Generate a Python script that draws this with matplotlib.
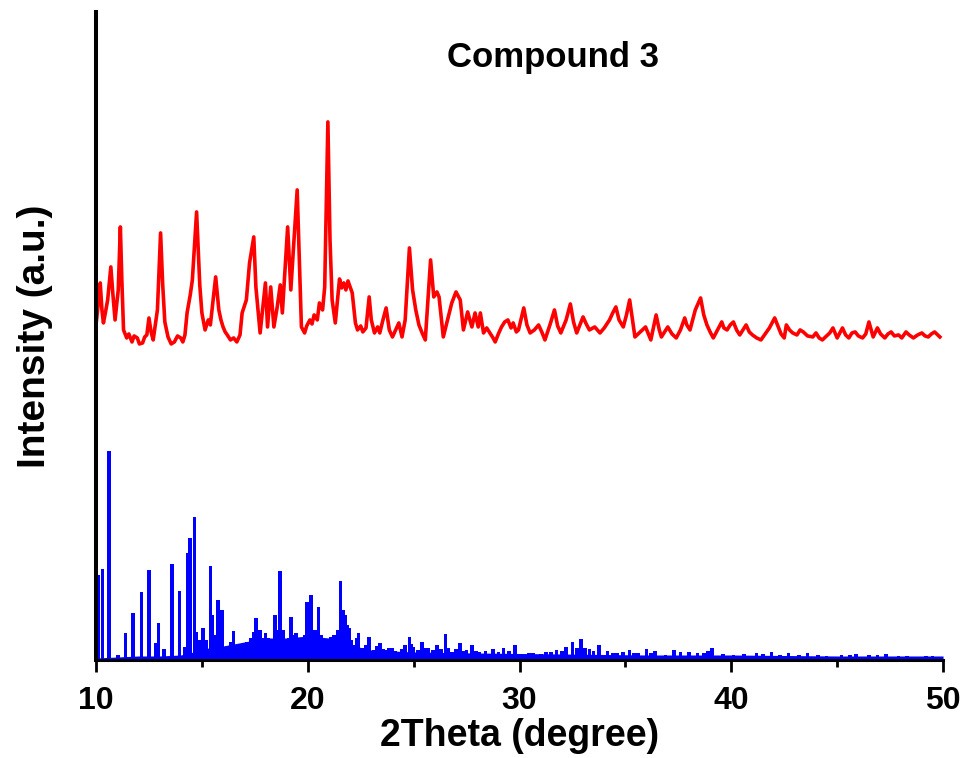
import numpy as np
import matplotlib.pyplot as plt

# experimental pattern (red), intensity in arbitrary units
red_2theta = [10.0, 10.1, 10.2, 10.28, 10.35, 10.45, 10.55, 10.7, 10.8, 10.9,
              11.05, 11.15, 11.22, 11.3, 11.45, 11.55, 11.7, 11.8, 11.95, 12.05,
              12.2, 12.3, 12.4, 12.5, 12.6, 12.7, 12.9, 13.05, 13.15, 13.25,
              13.4, 13.55, 13.7, 13.85, 14.0, 14.1, 14.2, 14.3, 14.45, 14.55,
              14.75, 14.85, 14.9, 15.0, 15.15, 15.3, 15.4, 15.65, 15.8, 15.9,
              16.0, 16.1, 16.2, 16.35, 16.5, 16.65, 16.8, 16.9, 17.1, 17.25,
              17.45, 17.55, 17.75, 18.0, 18.1, 18.25, 18.4, 18.55, 18.7, 18.8,
              19.05, 19.2, 19.35, 19.5, 19.6, 19.7, 19.85, 19.95, 20.1, 20.2,
              20.3, 20.45, 20.55, 20.7, 20.8, 20.95, 21.05, 21.15, 21.3, 21.5,
              21.6, 21.7, 21.8, 21.9, 22.1, 22.25, 22.35, 22.5, 22.6, 22.75,
              22.9, 23.0, 23.15, 23.3, 23.4, 23.55, 23.7, 23.85, 24.0, 24.15,
              24.3, 24.45, 24.6, 24.8, 24.95, 25.1, 25.25, 25.4, 25.55, 25.8,
              25.95, 26.1, 26.2, 26.4, 26.6, 26.8, 27.0, 27.2, 27.35, 27.55,
              27.75, 27.9, 28.05, 28.15, 28.3, 28.45, 28.6, 28.75, 28.85, 29.0,
              29.15, 29.3, 29.45, 29.6, 29.7, 29.85, 29.95, 30.2, 30.35, 30.5,
              30.7, 30.9, 31.05, 31.2, 31.45, 31.65, 31.8, 31.95, 32.2, 32.4,
              32.55, 32.7, 32.85, 33.0, 33.15, 33.3, 33.55, 33.8, 34.0, 34.25,
              34.4, 34.55, 34.7, 34.9, 35.05, 35.2, 35.45, 35.7, 35.95, 36.2,
              36.45, 36.6, 36.7, 36.85, 37.0, 37.2, 37.4, 37.6, 37.8, 37.9,
              38.05, 38.3, 38.55, 38.7, 38.85, 39.0, 39.15, 39.35, 39.55, 39.65,
              39.8, 39.95, 40.1, 40.25, 40.4, 40.55, 40.7, 40.85, 41.0, 41.2,
              41.4, 41.6, 41.8, 42.05, 42.2, 42.35, 42.5, 42.6, 42.75, 42.9,
              43.1, 43.25, 43.4, 43.6, 43.85, 44.0, 44.15, 44.3, 44.5, 44.65,
              44.8, 45.0, 45.1, 45.25, 45.4, 45.55, 45.7, 45.85, 46.0, 46.2,
              46.35, 46.5, 46.7, 46.9, 47.05, 47.25, 47.4, 47.55, 47.7, 47.9,
              48.05, 48.25, 48.4, 48.6, 48.8, 49.0, 49.15, 49.3, 49.45, 49.6,
              49.75, 49.85]
red_intensity = [335, 355, 377, 350, 337, 348, 360, 393, 365, 340,
                 370, 433, 380, 330, 322, 326, 318, 324, 322, 316,
                 317, 323, 325, 342, 328, 320, 350, 427, 375, 338,
                 323, 316, 318, 324, 322, 318, 325, 347, 365, 380,
                 448, 400, 375, 347, 330, 340, 335, 383, 350, 340,
                 333, 328, 325, 320, 322, 318, 325, 347, 360, 397,
                 423, 373, 327, 377, 333, 373, 333, 352, 375, 347,
                 433, 370, 420, 470, 400, 333, 327, 334, 340, 336,
                 345, 340, 357, 350, 373, 538, 420, 360, 337, 381,
                 372, 377, 370, 379, 367, 337, 330, 334, 328, 332,
                 363, 340, 327, 333, 327, 340, 352, 330, 323, 330,
                 337, 323, 340, 412, 370, 350, 335, 327, 320, 400,
                 363, 368, 363, 323, 340, 357, 368, 360, 330, 348,
                 333, 347, 333, 347, 327, 332, 327, 322, 318, 326,
                 333, 338, 340, 332, 337, 328, 330, 352, 335, 327,
                 330, 335, 328, 320, 336, 350, 334, 327, 340, 356,
                 338, 327, 335, 343, 336, 330, 333, 327, 332, 340,
                 347, 353, 340, 333, 345, 360, 323, 328, 333, 320,
                 345, 330, 323, 328, 333, 326, 322, 330, 342, 335,
                 330, 350, 362, 345, 335, 328, 322, 330, 338, 332,
                 330, 335, 338, 330, 325, 330, 335, 328, 325, 322,
                 320, 326, 332, 342, 334, 326, 322, 335, 330, 327,
                 325, 330, 328, 324, 323, 327, 322, 320, 324, 327,
                 332, 322, 326, 332, 325, 322, 327, 328, 324, 322,
                 326, 338, 323, 332, 326, 322, 326, 328, 324, 325,
                 322, 328, 325, 322, 325, 327, 324, 323, 326, 328,
                 325, 323]

# simulated pattern (blue sticks)
sim_2theta = [10.1, 10.3, 10.6, 11.05, 11.4, 11.75, 12.15, 12.5, 12.8, 12.95,
              13.2, 13.6, 13.95, 14.2, 14.35, 14.45, 14.65, 14.75, 14.9, 15.05,
              15.2, 15.4, 15.5, 15.65, 15.75, 15.85, 15.95, 16.2, 16.35, 16.5,
              16.7, 16.9, 17.1, 17.3, 17.45, 17.55, 17.65, 17.75, 17.9, 18.0,
              18.15, 18.3, 18.45, 18.6, 18.7, 18.85, 19.0, 19.1, 19.2, 19.3,
              19.45, 19.6, 19.7, 19.85, 19.95, 20.05, 20.15, 20.25, 20.35, 20.5,
              20.65, 20.8, 20.95, 21.1, 21.25, 21.4, 21.55, 21.65, 21.75, 21.85,
              21.95, 22.05, 22.15, 22.3, 22.4, 22.6, 22.75, 22.9, 23.1, 23.25,
              23.4, 23.55, 23.7, 23.85, 24.0, 24.15, 24.3, 24.45, 24.6, 24.8,
              24.9, 25.0, 25.2, 25.4, 25.55, 25.7, 25.9, 26.1, 26.3, 26.5,
              26.65, 26.8, 27.0, 27.2, 27.35, 27.5, 27.75, 27.95, 28.1, 28.4,
              28.75, 29.0, 29.25, 29.5, 29.8, 30.2, 30.45, 30.65, 31.0, 31.25,
              31.5, 31.75, 32.0, 32.2, 32.5, 32.7, 32.9, 33.1, 33.3, 33.5,
              33.75, 34.15, 34.4, 34.6, 34.9, 35.2, 35.4, 35.6, 36.0, 36.2,
              36.4, 36.9, 37.3, 37.6, 38.0, 38.4, 38.7, 38.9, 39.1, 39.6,
              40.1, 40.6, 41.2, 41.5, 41.9, 42.3, 42.7, 43.2, 43.6, 44.1,
              44.5, 45.2, 45.6, 45.9, 46.5, 46.9, 47.3, 47.9, 48.3, 48.6,
              49.2, 49.5, 49.8]
sim_intensity = [85, 91, 209, 5, 27, 47, 68, 90, 17, 37,
                 11, 96, 69, 13, 107, 122, 143, 28, 20, 32,
                 20, 94, 45, 25, 60, 40, 50, 13, 18, 29,
                 15, 12, 18, 22, 28, 42, 25, 30, 22, 27,
                 22, 20, 45, 30, 89, 30, 17, 22, 43, 25,
                 27, 22, 18, 25, 58, 35, 65, 28, 30, 53,
                 25, 17, 20, 23, 25, 30, 79, 50, 45, 35,
                 32, 20, 15, 22, 27, 12, 15, 23, 10, 14,
                 17, 11, 10, 12, 12, 9, 8, 11, 15, 23,
                 16, 13, 10, 18, 12, 12, 10, 15, 11, 26,
                 12, 8, 11, 17, 9, 10, 15, 9, 8, 9,
                 11, 8, 12, 9, 15, 5, 7, 7, 6, 8,
                 8, 10, 9, 13, 18, 12, 21, 12, 11, 9,
                 15, 9, 7, 7, 8, 10, 7, 7, 11, 7,
                 9, 5, 10, 8, 8, 7, 7, 9, 12, 6,
                 5, 6, 7, 6, 8, 5, 7, 5, 7, 5,
                 4, 5, 5, 6, 5, 5, 6, 4, 4, 3,
                 4, 4, 3]

# filled background under the simulated sticks
bg_2theta = [10, 11, 12, 13, 14, 14.6, 15, 16, 17, 18, 19, 20, 21, 22, 23,
             25, 28, 32, 36, 40, 45, 50]
bg_intensity = [2, 3, 4, 4, 5, 8, 11, 14, 18, 22, 22, 24, 22, 15, 10,
                8, 7, 6, 5, 5, 4, 4]

plt.rcParams['font.family'] = 'Liberation Sans'
plt.rcParams['font.weight'] = 'bold'

fig = plt.figure(figsize=(9.62, 7.58), dpi=100)
ax = fig.add_axes([0.0998, 0.1293, 0.8805, 0.855])

ax.fill_between(bg_2theta, bg_intensity, 0, color='blue', lw=0)
ax.bar(sim_2theta, sim_intensity, width=0.17, color='blue', linewidth=0)
ax.plot(red_2theta, red_intensity, color='red', lw=2.6)

ax.set_xlim(10, 50)
ax.set_ylim(0, 648)
ax.set_xticks([10, 20, 30, 40, 50])
ax.set_xticks([15, 25, 35, 45], minor=True)
ax.set_yticks([])
for s in ['top', 'right']:
    ax.spines[s].set_visible(False)
ax.spines['left'].set_linewidth(2.9)
ax.spines['bottom'].set_linewidth(2.2)
ax.tick_params(axis='x', which='major', direction='out', length=8.5, width=2,
               labelsize=23, pad=10)
ax.tick_params(axis='x', which='minor', direction='out', length=5, width=2)

ax.set_xlabel('2Theta (degree)', fontsize=27, fontweight='bold', labelpad=2)
ax.set_ylabel('Intensity (a.u.)', fontsize=28, fontweight='bold', labelpad=31)
ax.text(31.6, 602, 'Compound 3', ha='center', va='center', fontsize=25,
        fontweight='bold')

fig.savefig('out.png', dpi=100)
